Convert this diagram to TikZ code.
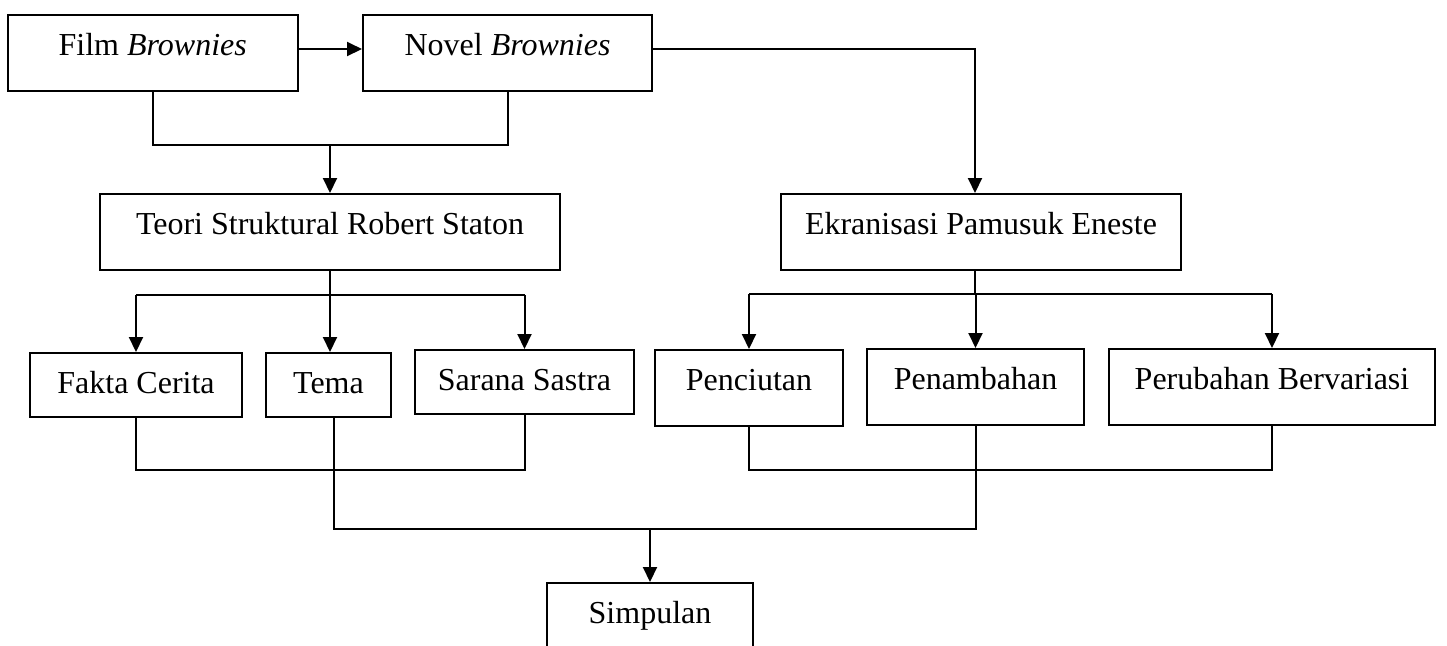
\documentclass[tikz,border=0pt]{standalone}
\usepackage{fontspec}
\setmainfont{Liberation Serif}
\usepackage{tikz}
\usetikzlibrary{arrows.meta}

\tikzset{
  box/.style={draw,line width=1pt,inner sep=0pt,anchor=north,
    text height=20pt,text depth=18pt},
  flatbox/.style={box,text depth=12pt},
  wire/.style={line width=1pt},
  link/.style={wire,-{Triangle[length=7.5pt,width=7pt]}},
}

\begin{document}
\begin{tikzpicture}[x=0.5pt,y=-0.5pt,font=\fontsize{16pt}{19pt}\selectfont]
  \useasboundingbox (0,0) rectangle (1447,645);
  \clip (0,0) rectangle (1447,645);

  \node[box,minimum width=144.75pt] (film) at (152.75,14)
    {Film \textit{Brownies}};
  \node[box,minimum width=144.5pt] (novel) at (507.5,14)
    {Novel \textit{Brownies}};
  \node[box,minimum width=230pt] (teori) at (330,193)
    {Teori Struktural Robert Staton};
  \node[box,minimum width=200pt] (ekran) at (981,193)
    {Ekranisasi Pamusuk Eneste};

  \node[flatbox,minimum width=106pt] (fakta) at (136,352) {Fakta Cerita};
  \node[flatbox,minimum width=62.5pt] (tema) at (328.5,352) {Tema};
  \node[flatbox,minimum width=109.5pt] (sarana) at (524.5,349) {Sarana Sastra};
  \node[box,minimum width=94pt] (penciutan) at (749,349) {Penciutan};
  \node[box,minimum width=108.5pt] (penambahan) at (975.5,348) {Penambahan};
  \node[box,minimum width=163pt] (perubahan) at (1272,348)
    {Perubahan Bervariasi};
  \node[box,minimum width=103pt] (simpulan) at (650,582) {Simpulan};

  \coordinate (turn) at (975,49);
  \coordinate (joinA) at (330,145);
  \coordinate (busA) at (330,295);
  \coordinate (busB) at (975,294);
  \coordinate (busC) at (650,470);
  \coordinate (busD) at (650,529);

  % film and novel
  \draw[link] (film.east |- turn) -- (novel.west |- turn);
  \draw[link] (novel.east |- turn) -- (turn) -- (turn |- ekran.north);
  \draw[wire] (film.south) -- (film.south |- joinA)
    -- (novel.south |- joinA) -- (novel.south);
  \draw[link] (teori.north |- joinA) -- (teori.north);

  % teori branches
  \draw[wire] (teori.south) -- (busA);
  \draw[wire] (fakta.north |- busA) -- (sarana.north |- busA);
  \draw[link] (fakta.north |- busA) -- (fakta.north);
  \draw[link] (busA) -- (busA |- tema.north);
  \draw[link] (sarana.north |- busA) -- (sarana.north);

  % ekranisasi branches
  \draw[wire] (turn |- ekran.south) -- (busB);
  \draw[wire] (penciutan.north |- busB) -- (perubahan.north |- busB);
  \foreach \n in {penciutan,penambahan,perubahan}
    \draw[link] (\n.north |- busB) -- (\n.north);

  % joins to simpulan
  \draw[wire] (fakta.south) -- (fakta.south |- busC)
    -- (sarana.south |- busC) -- (sarana.south);
  \draw[wire] (penciutan.south) -- (penciutan.south |- busC)
    -- (perubahan.south |- busC) -- (perubahan.south);
  \draw[wire] ([xshift=2.75pt]tema.south) -- ([xshift=2.75pt]tema.south |- busD)
    -- (penambahan.south |- busD) -- (penambahan.south);
  \draw[link] (simpulan.north |- busD) -- (simpulan.north);
\end{tikzpicture}
\end{document}
